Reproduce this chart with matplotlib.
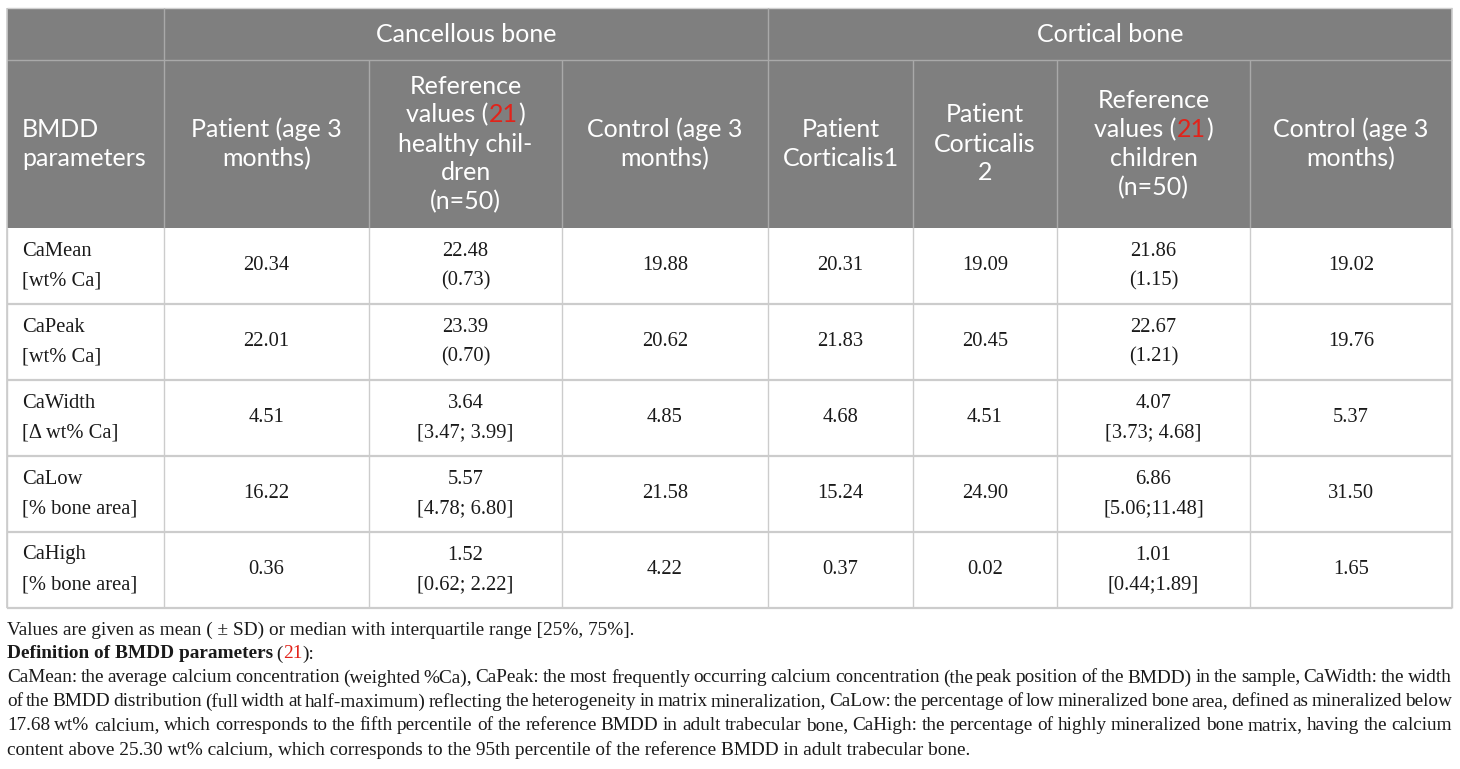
import matplotlib
matplotlib.use("Agg")
import matplotlib.pyplot as plt
from matplotlib.patches import Rectangle

W, H = 1460, 769

# ---- table content ----
groups = ["Cancellous bone", "Cortical bone"]
col_heads = [
    ["BMDD", "parameters"],
    ["Patient (age 3", "months)"],
    ["Reference", "values (21)", "healthy chil-", "dren", "(n=50)"],
    ["Control (age 3", "months)"],
    ["Patient", "Corticalis1"],
    ["Patient", "Corticalis", "2"],
    ["Reference", "values (21)", "children", "(n=50)"],
    ["Control (age 3", "months)"],
]
param_names = ["CaMean", "CaPeak", "CaWidth", "CaLow", "CaHigh"]
param_units = ["[wt% Ca]", "[wt% Ca]", "[\u0394 wt% Ca]", "[% bone area]", "[% bone area]"]
patient_canc = ["20.34", "22.01", "4.51", "16.22", "0.36"]
ref_canc = [["22.48", "(0.73)"], ["23.39", "(0.70)"], ["3.64", "[3.47; 3.99]"],
            ["5.57", "[4.78; 6.80]"], ["1.52", "[0.62; 2.22]"]]
control_canc = ["19.88", "20.62", "4.85", "21.58", "4.22"]
patient_cort1 = ["20.31", "21.83", "4.68", "15.24", "0.37"]
patient_cort2 = ["19.09", "20.45", "4.51", "24.90", "0.02"]
ref_cort = [["21.86", "(1.15)"], ["22.67", "(1.21)"], ["4.07", "[3.73; 4.68]"],
            ["6.86", "[5.06;11.48]"], ["1.01", "[0.44;1.89]"]]
control_cort = ["19.02", "19.76", "5.37", "31.50", "1.65"]

note1 = "Values are given as mean ( \u00b1 SD) or median with interquartile range [25%, 75%]."
note_def = "Definition of BMDD parameters"
note_lines = [
    "CaMean: the average calcium concentration (weighted %Ca), CaPeak: the most frequently occurring calcium concentration (the peak position of the BMDD) in the sample, CaWidth: the width",
    "of the BMDD distribution (full width at half-maximum) reflecting the heterogeneity in matrix mineralization, CaLow: the percentage of low mineralized bone area, defined as mineralized below",
    "17.68 wt% calcium, which corresponds to the fifth percentile of the reference BMDD in adult trabecular bone, CaHigh: the percentage of highly mineralized bone matrix, having the calcium",
    "content above 25.30 wt% calcium, which corresponds to the 95th percentile of the reference BMDD in adult trabecular bone.",
]

# ---- layout ----
col_x = [7, 164, 369, 562, 768, 913, 1057, 1250, 1452]
y_top, y_mid, y_head = 8, 60, 228
row_h = 76
head_gray = "#7f7f7f"
head_line = "#a9a9a9"
body_line = "#cccccc"
red = "#e2231a"
sans = "Lato"
serif = "Liberation Serif"
hsize = 18
bsize = 14.8
fsize = 13.9

fig = plt.figure(figsize=(W / 100, H / 100), dpi=100)
ax = fig.add_axes([0, 0, 1, 1])
ax.set_xlim(0, W)
ax.set_ylim(H, 0)
ax.axis("off")
renderer = fig.canvas.get_renderer()


def width_of(t):
    return t.get_window_extent(renderer).width


def seg_text(x, y, segs, ha="center", **kw):
    arts = []
    for s, c, w in segs:
        arts.append(ax.text(0, y, s, color=c, fontweight=w, va="center", ha="left", **kw))
    ws = [width_of(a) for a in arts]
    x0 = x - sum(ws) / 2 if ha == "center" else x
    for a, w in zip(arts, ws):
        a.set_x(x0)
        x0 += w


def justify(y, line, x0, x1, **kw):
    words = line.split(" ")
    arts = [ax.text(0, y, w_, va="center", ha="left", **kw) for w_ in words]
    ws = [width_of(a) for a in arts]
    gap = (x1 - x0 - sum(ws)) / (len(words) - 1)
    x = x0
    for a, w in zip(arts, ws):
        a.set_x(x)
        x += w + gap


# header background
ax.add_patch(Rectangle((col_x[0], y_top), col_x[-1] - col_x[0], y_head - y_top,
                       facecolor=head_gray, edgecolor="none"))
ax.hlines(y_top - 0.5, col_x[0], col_x[-1], color="#d0d0d0", lw=1)
ax.hlines(y_mid, col_x[0], col_x[-1], color=head_line, lw=1)
for i, x in enumerate(col_x):
    if i in (0, 8):
        continue
    y_start = y_top if i in (1, 4) else y_mid
    ax.vlines(x, y_start, y_head, color=head_line, lw=1)

# group headers
ax.text((col_x[1] + col_x[4]) / 2, (y_top + y_mid) / 2 + 1, groups[0], color="white",
        ha="center", va="center", fontsize=hsize, family=sans)
ax.text((col_x[4] + col_x[8]) / 2, (y_top + y_mid) / 2 + 1, groups[1], color="white",
        ha="center", va="center", fontsize=hsize, family=sans)

# column headers
hc = (y_mid + y_head) / 2
lsp = 29
for j, lines in enumerate(col_heads):
    n = len(lines)
    for k, line in enumerate(lines):
        y = hc + (k - (n - 1) / 2) * lsp
        if j == 0:
            ax.text(col_x[0] + 15, y, line, color="white", ha="left", va="center",
                    fontsize=hsize, family=sans)
            continue
        cx = (col_x[j] + col_x[j + 1]) / 2
        if "(21)" in line:
            pre = line.split("21")[0]
            seg_text(cx, y, [(pre, "white", "normal"), ("21", red, "normal"),
                             (")", "white", "normal")], fontsize=hsize, family=sans)
        else:
            ax.text(cx, y, line, color="white", ha="center", va="center",
                    fontsize=hsize, family=sans)

# body
columns = [patient_canc, ref_canc, control_canc, patient_cort1, patient_cort2, ref_cort, control_cort]
for r in range(len(param_names)):
    ry0 = y_head + r * row_h
    cy = ry0 + row_h / 2
    ax.text(col_x[0] + 15, cy - 15, param_names[r], ha="left", va="center",
            fontsize=bsize, family=serif, color="#1a1a1a")
    ax.text(col_x[0] + 15, cy + 15, param_units[r], ha="left", va="center",
            fontsize=bsize, family=serif, color="#1a1a1a")
    for j, col in enumerate(columns):
        cx = (col_x[j + 1] + col_x[j + 2]) / 2
        v = col[r]
        if isinstance(v, list):
            ax.text(cx, cy - 15, v[0], ha="center", va="center", fontsize=bsize,
                    family=serif, color="#1a1a1a")
            ax.text(cx, cy + 15, v[1], ha="center", va="center", fontsize=bsize,
                    family=serif, color="#1a1a1a")
        else:
            ax.text(cx, cy, v, ha="center", va="center", fontsize=bsize,
                    family=serif, color="#1a1a1a")
    ax.hlines(ry0 + row_h, col_x[0], col_x[-1], color=body_line, lw=1.6)

y_bot = y_head + len(param_names) * row_h
for x in col_x:
    ax.vlines(x, y_head, y_bot, color=body_line, lw=1)
ax.vlines([col_x[0], col_x[-1]], y_top, y_bot, color=body_line, lw=1.2)

# footnotes
ax.text(col_x[0], 630, note1, ha="left", va="center", fontsize=fsize, family=serif, color="#1a1a1a")
seg_text(col_x[0], 654, [(note_def, "#1a1a1a", "bold"), ("\u2009(", "#1a1a1a", "normal"),
                         ("21", red, "normal"), ("):", "#1a1a1a", "normal")],
         ha="left", fontsize=fsize, family=serif)
for i, line in enumerate(note_lines):
    y = 678 + i * 24
    if i < len(note_lines) - 1:
        justify(y, line, col_x[0], col_x[-1], fontsize=fsize, family=serif, color="#1a1a1a")
    else:
        ax.text(col_x[0], y, line, ha="left", va="center", fontsize=fsize, family=serif,
                color="#1a1a1a")

fig.savefig("out.png", dpi=100, facecolor="white")
